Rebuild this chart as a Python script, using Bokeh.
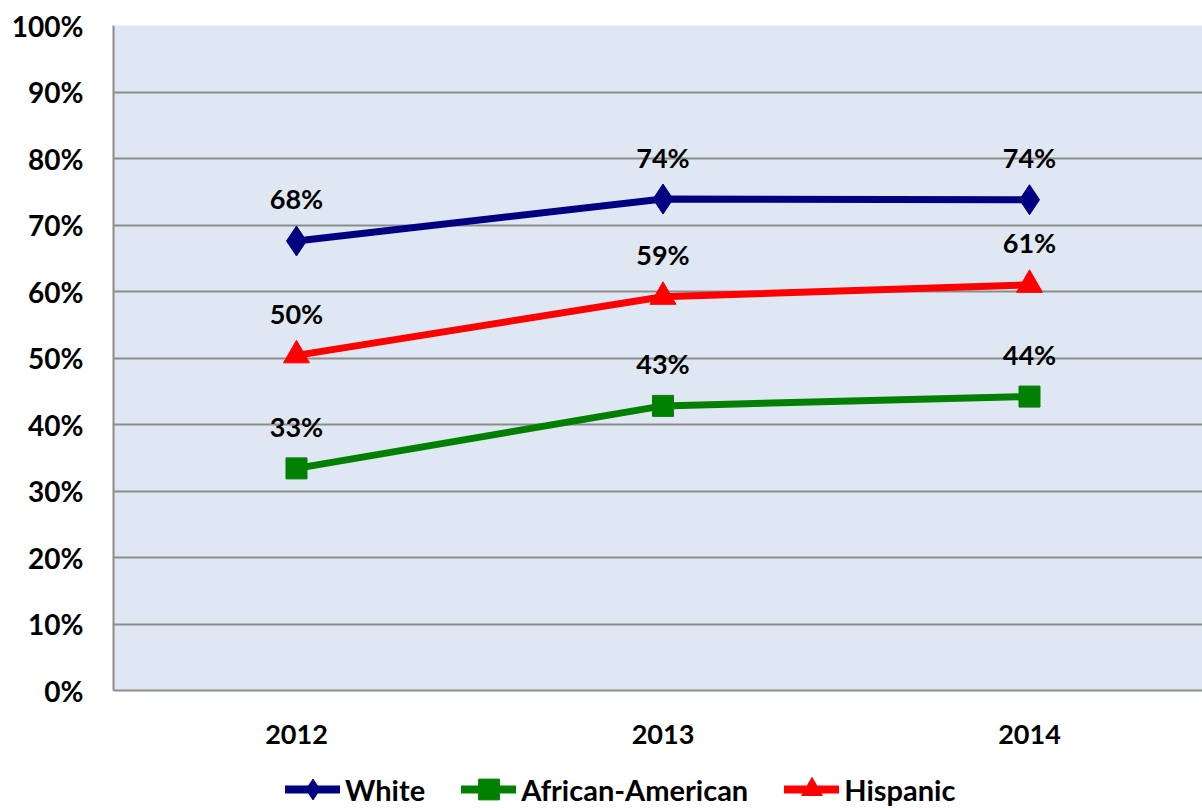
from bokeh.plotting import figure
from bokeh.layouts import column
from bokeh.models import ColumnDataSource, Range1d, FixedTicker, Legend, LegendItem
from bokeh.core.properties import value
from bokeh.embed import file_html
from bokeh.resources import INLINE

years = ["2012", "2013", "2014"]
white = [67.6, 73.9, 73.8]
african_american = [33.4, 42.8, 44.2]
hispanic = [50.4, 59.2, 61.0]
y_ticks = [0, 10, 20, 30, 40, 50, 60, 70, 80, 90, 100]
series_names = ["White", "African-American", "Hispanic"]

FONT = "Lato"
FS = "27px"

p = figure(width=1202, height=758, output_backend="svg", toolbar_location=None,
           x_range=Range1d(-0.4993, 2.472), y_range=Range1d(0, 100),
           min_border_left=113, min_border_right=0, min_border_top=25,
           min_border_bottom=68)
p.border_fill_color = "white"
p.outline_line_color = None
p.background_fill_color = "#dfe8f2"

xs = list(range(len(years)))

# axes
p.xaxis.ticker = FixedTicker(ticks=xs)
p.xaxis.major_label_overrides = {i: y for i, y in enumerate(years)}
p.yaxis.ticker = FixedTicker(ticks=y_ticks)
p.yaxis.major_label_overrides = {t: f"{t}%" for t in y_ticks}
for ax in (p.xaxis, p.yaxis):
    ax.major_tick_line_color = None
    ax.minor_tick_line_color = None
    ax.major_label_text_font = FONT
    ax.major_label_text_font_style = "bold"
    ax.major_label_text_font_size = FS
    ax.major_label_text_color = "black"
    ax.axis_line_color = "#8c8c8c"
    ax.axis_line_width = 2
p.yaxis.major_label_text_font_size = "28px"
p.yaxis.major_label_standoff = 24
p.xaxis.major_label_standoff = 28
p.xgrid.grid_line_color = None
p.ygrid.grid_line_color = "#8c8c8c"
p.ygrid.grid_line_width = 2

colors = ["#000080", "#008000", "#ff0000"]
markers = ["diamond", "square", "triangle"]
sizes = [30, 21, 26]
values_list = [white, african_american, hispanic]

for vals, color, marker, size in zip(values_list, colors, markers, sizes):
    src = ColumnDataSource(dict(x=xs, y=vals, lab=[f"{round(v)}%" for v in vals]))
    p.line("x", "y", source=src, line_color=color, line_width=7, line_join="round")
    p.scatter("x", "y", source=src, marker=marker, size=size,
              fill_color=color, line_color=color)
    p.text("x", "y", text="lab", source=src, y_offset=-42,
           text_align="center", text_baseline="middle",
           text_font=value(FONT), text_font_style="bold",
           text_font_size=FS, text_color="black")

# legend strip below the chart (its ranges keep the series themselves out of view)
lg = figure(width=1202, height=50, output_backend="svg", toolbar_location=None,
            x_range=Range1d(10, 11), y_range=Range1d(1000, 1001),
            x_axis_type=None, y_axis_type=None,
            min_border_left=0, min_border_right=0, min_border_top=0, min_border_bottom=0)
lg.outline_line_color = None
lg.grid.grid_line_color = None
lg.background_fill_color = "white"
lg.border_fill_color = "white"

items = []
for name, vals, color, marker, size in zip(series_names, values_list, colors, markers, sizes):
    src = ColumnDataSource(dict(x=xs, y=vals))
    l = lg.line("x", "y", source=src, line_color=color, line_width=8, line_cap="round")
    s = lg.scatter("x", "y", source=src, marker=marker, size=size,
                   fill_color=color, line_color=color)
    items.append(LegendItem(label=name, renderers=[l, s]))

legend = Legend(items=items, orientation="horizontal", location=(172, -7),
                padding=0, margin=0, spacing=36, glyph_width=55, glyph_height=52,
                label_standoff=5, label_text_font=FONT, label_text_font_style="bold",
                label_text_font_size="29px", label_text_color="black",
                background_fill_alpha=0, border_line_color=None)
lg.add_layout(legend, "center")

open("out.html", "w").write(file_html(column(p, lg, spacing=0), INLINE))
